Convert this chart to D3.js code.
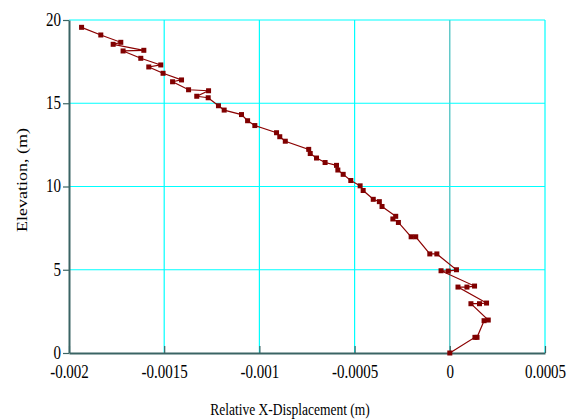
<!DOCTYPE html>
<html>
<head>
<meta charset="utf-8">
<script src="https://cdn.jsdelivr.net/npm/d3@7"></script>
<style>
  body { margin: 0; background: #fff; }
  text { font-family: "Liberation Serif", "Times New Roman", serif; fill: #000; }
</style>
</head>
<body>
<div id="chart"></div>
<script>
// relative x displacement (m) and elevation (m), in path order from the top down
const displacement = [
  -0.001934, -0.001833, -0.001728, -0.001768, -0.001607, -0.001716, -0.001623,
  -0.001518, -0.001581, -0.001506, -0.001409, -0.001456, -0.001372, -0.001267,
  -0.001329, -0.001269, -0.001215, -0.001185, -0.001094, -0.001062, -0.001024,
  -0.000910, -0.000893, -0.000864, -0.000741, -0.000733, -0.000700, -0.000655,
  -0.000595, -0.000588, -0.000560, -0.000520, -0.000471, -0.000455, -0.000402,
  -0.000370, -0.000356, -0.000284, -0.000299, -0.000270, -0.000203, -0.000179,
  -0.000105, -0.000068, 0.000035, -0.000008, -0.000046, 0.000130, 0.000090,
  0.000043, 0.000193, 0.000156, 0.000111, 0.000202, 0.000180, 0.000143,
  0.000132, 0
];
const elevation = [
  19.56, 19.10, 18.66, 18.54, 18.18, 18.14, 17.70,
  17.30, 17.18, 16.80, 16.40, 16.29, 15.81, 15.75,
  15.42, 15.33, 14.85, 14.59, 14.32, 13.95, 13.66,
  13.23, 12.99, 12.72, 12.23, 11.98, 11.71, 11.44,
  11.27, 10.99, 10.73, 10.36, 10.04, 9.76, 9.23,
  9.09, 8.80, 8.21, 8.05, 7.84, 6.98, 6.98,
  5.95, 5.95, 5.00, 4.92, 4.94, 4.02, 3.96,
  3.96, 3.00, 2.96, 2.96, 1.98, 1.94, 0.94,
  0.94, 0
];
const xTicks = [-0.002, -0.0015, -0.001, -0.0005, 0, 0.0005];
const yTicks = [0, 5, 10, 15, 20];

const W = 572, H = 419;
const margin = {top: 20, right: 27, bottom: 66, left: 69};

const svg = d3.select("#chart").append("svg")
  .attr("width", W).attr("height", H);

const x = d3.scaleLinear().domain([-0.002, 0.0005]).range([margin.left, W - margin.right]);
const y = d3.scaleLinear().domain([0, 20]).range([H - margin.bottom, margin.top]);

// grid
svg.append("g").selectAll("line").data(xTicks.slice(1)).enter().append("line")
  .attr("x1", d => x(d)).attr("x2", d => x(d))
  .attr("y1", y(0)).attr("y2", y(20))
  .attr("stroke", d => d === 0 ? "#3cbcbc" : "#00ffff").attr("stroke-width", 1.2);
svg.append("g").selectAll("line").data(yTicks.slice(1)).enter().append("line")
  .attr("x1", x(-0.002)).attr("x2", x(0.0005))
  .attr("y1", d => y(d)).attr("y2", d => y(d))
  .attr("stroke", "#00ffff").attr("stroke-width", 1.2);

// axes
const axisColor = "#3a6464";
const gx = svg.append("g").attr("transform", `translate(0,${y(0)})`)
  .call(d3.axisBottom(x).tickValues(xTicks).tickFormat(d => String(d)).tickSizeInner(-7).tickSizeOuter(0));
const gy = svg.append("g").attr("transform", `translate(${x(-0.002)},0)`)
  .call(d3.axisLeft(y).tickValues(yTicks).tickFormat(d => String(d)).tickSizeInner(6).tickSizeOuter(0).tickPadding(2));
[gx, gy].forEach(g => {
  g.select(".domain").attr("stroke", axisColor).attr("stroke-width", 2);
  g.selectAll(".tick line").attr("stroke", axisColor).attr("stroke-width", 1.2);
  g.selectAll("text").style("font-family", "Liberation Serif").style("font-size", "15px").attr("fill", "#000");
});
// the reference type is a little taller than it is wide
gx.selectAll(".tick text").attr("transform", "scale(1,1.2)").attr("y", 14).attr("dy", "0.45em");
gy.selectAll(".tick text").attr("transform", "scale(1,1.2)").attr("dy", "0.3em");

// line and markers
const pts = displacement.map((d, i) => [d, elevation[i]]);
svg.append("path").datum(pts)
  .attr("fill", "none").attr("stroke", "#8b0000").attr("stroke-width", 1.2)
  .attr("d", d3.line().x(d => x(d[0])).y(d => y(d[1])));
svg.append("g").selectAll("rect").data(pts).enter().append("rect")
  .attr("x", d => x(d[0]) - 2.5).attr("y", d => y(d[1]) - 2.5)
  .attr("width", 5).attr("height", 5).attr("fill", "#800000");

// titles
svg.append("text")
  .attr("transform", "translate(290,409) scale(1,1.2)")
  .attr("text-anchor", "middle").attr("dy", "0.35em")
  .style("font-size", "13.5px").text("Relative X-Displacement (m)");
svg.append("text")
  .attr("transform", "translate(22,180) rotate(-90) scale(1.2,1)")
  .attr("text-anchor", "middle").attr("dy", "0.35em")
  .style("font-size", "15px").text("Elevation, (m)");
</script>
</body>
</html>
